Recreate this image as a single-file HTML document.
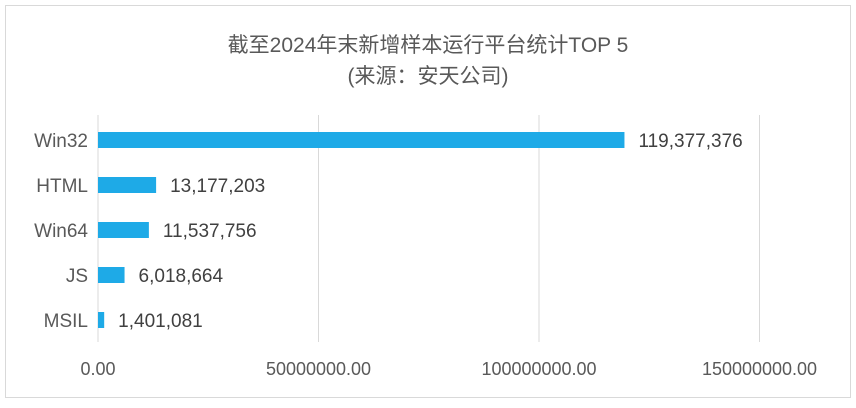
<!DOCTYPE html>
<html><head><meta charset="utf-8"><style>
body{margin:0;background:#fff;}
svg text{font-family:"Liberation Sans","Noto Sans CJK SC",sans-serif;}
</style></head><body>
<svg width="856" height="403" xmlns="http://www.w3.org/2000/svg">
<rect x="5.5" y="5.5" width="845" height="392" fill="#fff" stroke="#d9d9d9"/>
<text x="428" y="52" text-anchor="middle" font-size="21" fill="#595959">截至2024年末新增样本运行平台统计TOP 5</text>
<text x="428" y="83" text-anchor="middle" font-size="21" fill="#595959">(来源：安天公司)</text>
<g id="grid"></g><g id="bars"></g><g id="labels"></g>
</svg>
<script>
const categories=["Win32","HTML","Win64","JS","MSIL"];
const values=[119377376,13177203,11537756,6018664,1401081];
const valueLabels=["119,377,376","13,177,203","11,537,756","6,018,664","1,401,081"];
const ticks=[0,50000000,100000000,150000000];
const tickLabels=["0.00","50000000.00","100000000.00","150000000.00"];
const ns="http://www.w3.org/2000/svg";
const x0=98,pxPer=220.5/50000000;
const xs=v=>x0+v*pxPer;
const ys=i=>140+i*45;
function mk(t,a,p){const e=document.createElementNS(ns,t);for(const k in a)e.setAttribute(k,a[k]);p.appendChild(e);return e;}
const g=document.getElementById('grid'),b=document.getElementById('bars'),l=document.getElementById('labels');
ticks.forEach((t,i)=>{
 const ln=mk('line',{x1:xs(t),x2:xs(t),y1:115,y2:342,stroke:'#d9d9d9','stroke-width':1},g);
 
 
 const tx=mk('text',{x:xs(t),y:375,'text-anchor':'middle','font-size':18,fill:'#595959'},l);
 tx.textContent=tickLabels[i];
 
 
});
categories.forEach((c,i)=>{
 const y=ys(i);
 const r=mk('rect',{x:x0,y:y-8,width:xs(values[i])-x0,height:16,fill:'#1eaae7'},b);
 
 
 const ct=mk('text',{x:88,y:y+7,'text-anchor':'end','font-size':19,fill:'#595959'},l);
 ct.textContent=c;
 
 
 const vt=mk('text',{x:xs(values[i])+14,y:y+7,'font-size':19,fill:'#404040'},l);
 vt.textContent=valueLabels[i];
 
 
});
</script>
</body></html>
